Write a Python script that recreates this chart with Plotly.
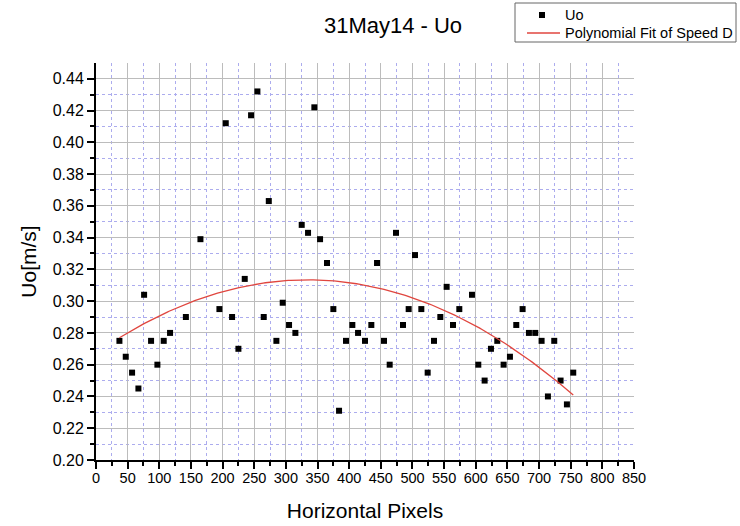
import numpy as np
import plotly.graph_objects as go

# Horizontal pixel position of each measurement
x_px = [37, 47, 57, 67, 76, 87, 97, 107, 117, 142, 165, 195, 205, 215, 225,
        235, 245, 255, 265, 273, 285, 295, 305, 315, 325, 335, 345, 354, 365,
        375, 384, 395, 405, 414, 425, 435, 444, 455, 464, 474, 485, 494, 504,
        514, 524, 534, 544, 554, 564, 574, 594, 604, 614, 624, 634, 644, 654,
        664, 674, 684, 694, 704, 714, 724, 734, 744, 754]

# Measured speed Uo [m/s]
uo = [0.275, 0.265, 0.255, 0.245, 0.304, 0.275, 0.260, 0.275, 0.280, 0.290,
      0.339, 0.295, 0.412, 0.290, 0.270, 0.314, 0.417, 0.432, 0.290, 0.363,
      0.275, 0.299, 0.285, 0.280, 0.348, 0.343, 0.422, 0.339, 0.324, 0.295,
      0.231, 0.275, 0.285, 0.280, 0.275, 0.285, 0.324, 0.275, 0.260, 0.343,
      0.285, 0.295, 0.329, 0.295, 0.255, 0.275, 0.290, 0.309, 0.285, 0.295,
      0.304, 0.260, 0.250, 0.270, 0.275, 0.260, 0.265, 0.285, 0.295, 0.280,
      0.280, 0.275, 0.240, 0.275, 0.250, 0.235, 0.255]

x_ticks = list(range(0, 851, 50))
y_ticks = [round(0.20 + 0.02 * i, 2) for i in range(13)]

series_name = "Uo"
fit_name = "Polynomial Fit of Speed D"

# Second-order polynomial fit of the speed profile
coef = np.polyfit(x_px, uo, 2)
x_fit = np.linspace(min(x_px), max(x_px), 200)
y_fit = np.polyval(coef, x_fit)

FONT = "Liberation Sans, Arial, sans-serif"
FIT_COLOR = "#e0463f"

W, H = 740, 526
M_L, M_R, M_T, M_B = 96, 106, 63, 66
PLOT_W = W - M_L - M_R
PLOT_H = H - M_T - M_B


def px_x(px):
    """Page pixel column -> paper x."""
    return (px - M_L) / PLOT_W


def px_y(py):
    """Page pixel row -> paper y."""
    return (H - M_B - py) / PLOT_H


fig = go.Figure()
fig.add_trace(go.Scatter(
    x=x_px, y=uo, mode="markers", name=series_name,
    marker=dict(symbol="square", size=6, color="black", line=dict(width=0)),
))
fig.add_trace(go.Scatter(
    x=x_fit, y=y_fit, mode="lines", name=fit_name,
    line=dict(color=FIT_COLOR, width=1.3),
))

axis_common = dict(
    showline=True, linecolor="black", linewidth=2, mirror=False,
    ticks="outside", ticklen=7, tickwidth=1.5, tickcolor="black",
    showgrid=True, gridcolor="#bcbcbc", gridwidth=1,
    zeroline=False, automargin=False,
)
minor_grid = dict(ticks="outside", ticklen=4, tickcolor="black",
                  showgrid=True, gridcolor="rgb(172,172,238)", griddash="dot",
                  gridwidth=1)

fig.update_xaxes(
    range=[0, 850], tickvals=x_ticks, ticktext=[str(v) for v in x_ticks],
    tickfont=dict(family=FONT, size=14.5, color="black"),
    ticklabelstandoff=-3,
    minor=dict(dtick=25, tick0=0, **minor_grid),
    title=dict(text="Horizontal Pixels", font=dict(family=FONT, size=21, color="black"),
               standoff=18),
    **axis_common,
)
fig.update_yaxes(
    range=[0.20, 0.4499], tickvals=y_ticks, ticktext=[f"{v:.2f}" for v in y_ticks],
    tickfont=dict(family=FONT, size=16, color="black"),
    minor=dict(dtick=0.01, tick0=0.2, **minor_grid),
    title=dict(text="Uo[m/s]", font=dict(family=FONT, size=21, color="black"),
               standoff=10),
    **axis_common,
)

# Legend box: frame, marker sample, line sample and labels
legend_shapes = [
    dict(type="rect", xref="paper", yref="paper",
         x0=px_x(515), x1=px_x(736), y0=px_y(42), y1=px_y(3),
         line=dict(color="#666666", width=1), fillcolor="white", layer="above"),
    dict(type="rect", xref="paper", yref="paper",
         x0=px_x(539), x1=px_x(545), y0=px_y(18), y1=px_y(12),
         line=dict(width=0), fillcolor="black", layer="above"),
    dict(type="line", xref="paper", yref="paper",
         x0=px_x(527), x1=px_x(560), y0=px_y(33), y1=px_y(33),
         line=dict(color=FIT_COLOR, width=1.3), layer="above"),
]
legend_labels = [
    dict(text=series_name, x=px_x(563), y=px_y(15)),
    dict(text=fit_name, x=px_x(563), y=px_y(33)),
]

fig.update_layout(
    width=W, height=H,
    margin=dict(l=M_L, r=M_R, t=M_T, b=M_B, pad=0, autoexpand=False),
    paper_bgcolor="white", plot_bgcolor="white",
    font=dict(family=FONT, color="black"),
    title=dict(text="31May14 - Uo", font=dict(family=FONT, size=22, color="black"),
               xref="container", x=393 / W, xanchor="center",
               yref="container", y=1 - 25 / H, yanchor="middle"),
    showlegend=False,
    shapes=legend_shapes,
    annotations=[
        dict(text=lab["text"], x=lab["x"], y=lab["y"], xref="paper", yref="paper",
             xanchor="left", yanchor="middle", showarrow=False,
             font=dict(family=FONT, size=14.5, color="black"))
        for lab in legend_labels
    ],
)

fig.write_html("out.html")
